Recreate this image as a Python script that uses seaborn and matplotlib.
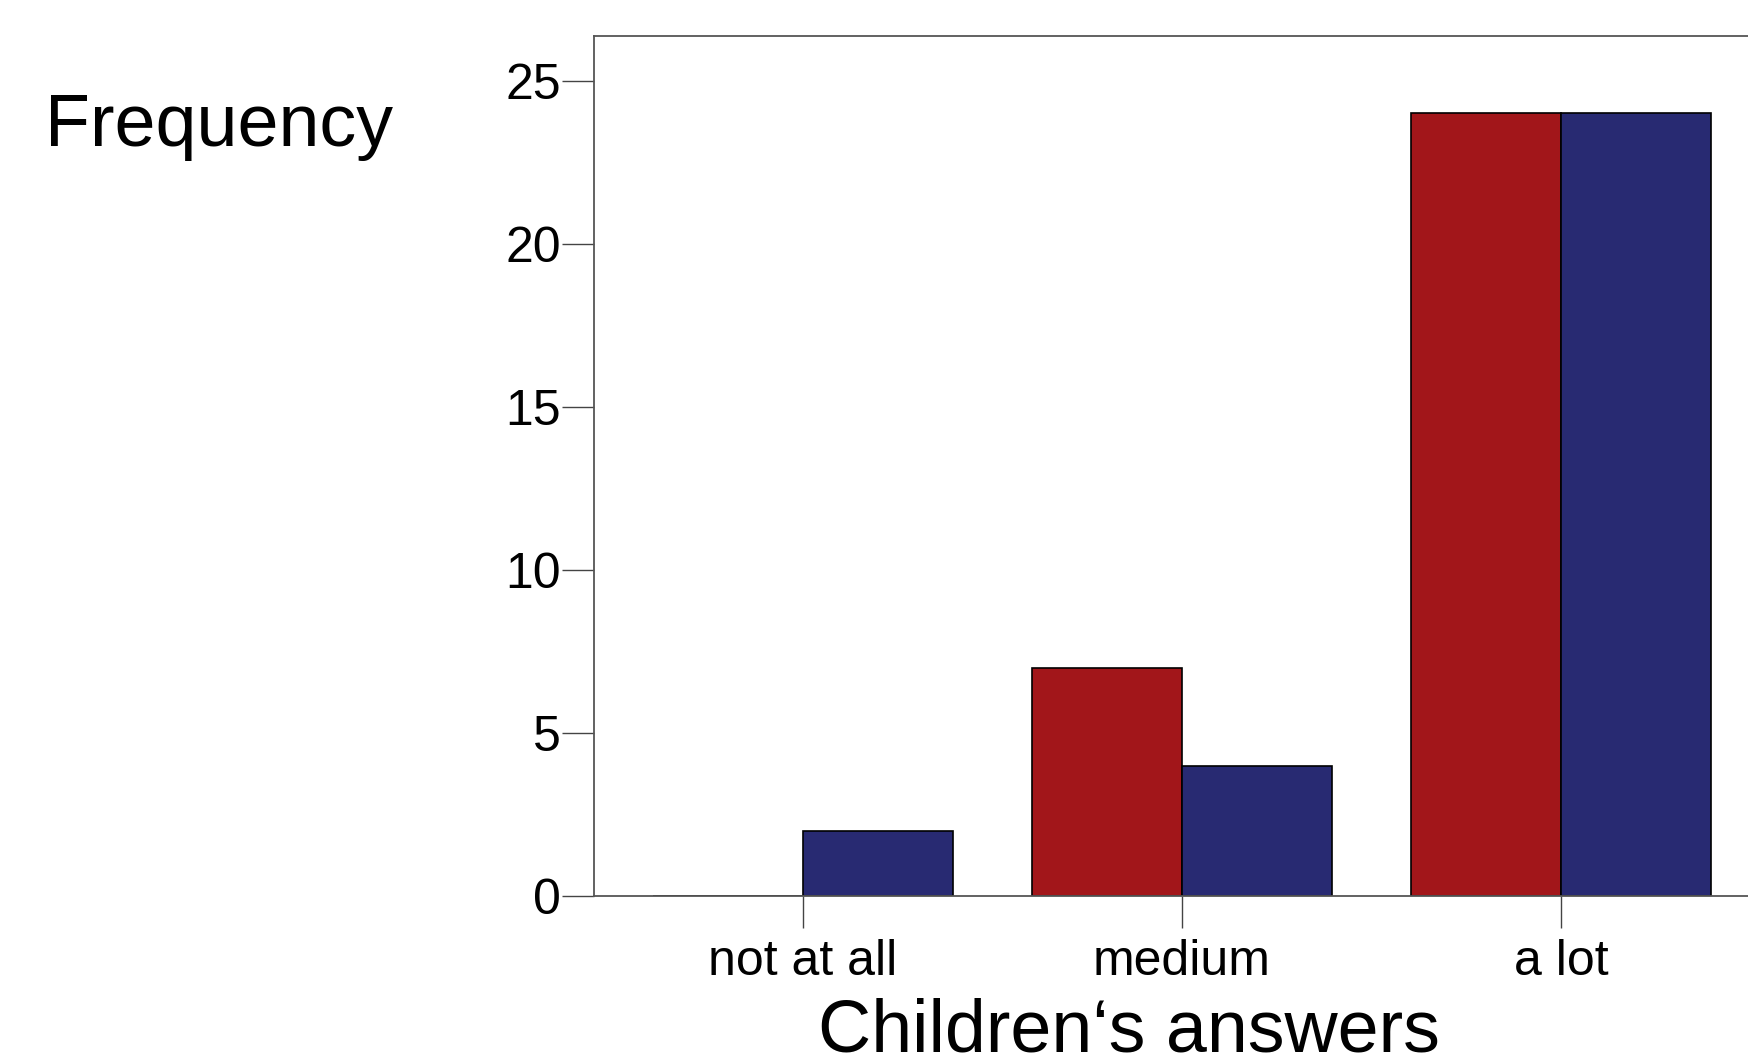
import matplotlib
matplotlib.use("Agg")
import matplotlib.pyplot as plt
import pandas as pd
import seaborn as sns

# categories and counts
answers = ["not at all", "medium", "a lot"]
groups = ["group 1", "group 2"]
counts_group1 = [0, 7, 24]
counts_group2 = [2, 4, 24]
y_ticks = [0, 5, 10, 15, 20, 25]

colors = ["#A2161A", "#282A72"]

df = pd.DataFrame({
  "answer": answers * 2,
  "group": [groups[0]] * 3 + [groups[1]] * 3,
  "count": counts_group1 + counts_group2,
})

sns.set_style("white")
plt.rcParams['font.family'] = ['Liberation Sans', 'DejaVu Sans']
plt.rcParams['text.color'] = 'black'
plt.rcParams['xtick.labelcolor'] = 'black'
plt.rcParams['ytick.labelcolor'] = 'black'

fig = plt.figure(figsize=(17.48, 10.61), dpi=100)
# axes run off the right edge, as in the reference
ax = fig.add_axes([0.340, 0.1555, 0.6723, 0.8105])

sns.barplot(data=df, x="answer", y="count", hue="group", order=answers,
  hue_order=groups, palette=colors, width=0.79, edgecolor="black",
  linewidth=1.2, saturation=1, legend=False, ax=ax)

ax.set_xlim(-0.55, 2.55)
ax.set_ylim(0, 26.37)
ax.set_yticks(y_ticks)
ax.set_xlabel("")
ax.set_ylabel("")

for side in ["top", "left", "bottom", "right"]:
  ax.spines[side].set_visible(True)
  ax.spines[side].set_color("#555555")
  ax.spines[side].set_linewidth(1.3)

ax.tick_params(axis="y", direction="out", length=23, width=1, color="#444444",
  labelsize=36, pad=1, left=True)
ax.tick_params(axis="x", direction="out", length=23, width=1, color="#444444",
  labelsize=36, pad=8, bottom=True)

fig.text(0.026, 0.862, "Frequency", fontsize=53, ha="left", va="baseline")
fig.text(0.646, 0.009, "Children\u2018s answers", fontsize=53, ha="center",
  va="baseline")

fig.savefig("out.png", dpi=100)
